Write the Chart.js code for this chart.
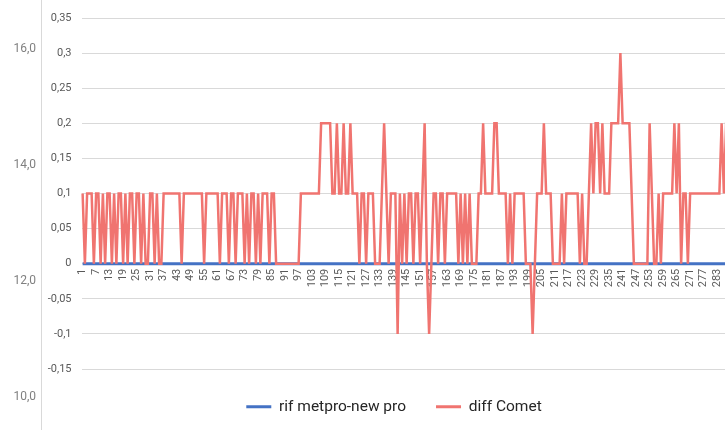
<!DOCTYPE html>
<html><head><meta charset="utf-8">
<script src="https://cdn.jsdelivr.net/npm/chart.js@4/dist/chart.umd.min.js"></script>
<style>
html,body{margin:0;padding:0;background:#fff;overflow:hidden;width:725px;height:430px;}
#main{position:absolute;left:0;top:0;}
#side{position:absolute;left:0;top:0;}
</style></head><body>
<canvas id="main" width="788" height="430"></canvas>
<canvas id="side" width="45" height="430"></canvas>
<script>
const categoryCount = 314;
const categories = Array.from({length: categoryCount}, (_, i) => String(i + 1));
const rifMetpro = [
0,0,0,0,0,0,0,0,0,0, 0,0,0,0,0,0,0,0,0,0, 0,0,0,0,0,0,0,0,0,0,
0,0,0,0,0,0,0,0,0,0, 0,0,0,0,0,0,0,0,0,0, 0,0,0,0,0,0,0,0,0,0,
0,0,0,0,0,0,0,0,0,0, 0,0,0,0,0,0,0,0,0,0, 0,0,0,0,0,0,0,0,0,0,
0,0,0,0,0,0,0,0,0,0, 0,0,0,0,0,0,0,0,0,0, 0,0,0,0,0,0,0,0,0,0,
0,0,0,0,0,0,0,0,0,0, 0,0,0,0,0,0,0,0,0,0, 0,0,0,0,0,0,0,0,0,0,
0,0,0,0,0,0,0,0,0,0, 0,0,0,0,0,0,0,0,0,0, 0,0,0,0,0,0,0,0,0,0,
0,0,0,0,0,0,0,0,0,0, 0,0,0,0,0,0,0,0,0,0, 0,0,0,0,0,0,0,0,0,0,
0,0,0,0,0,0,0,0,0,0, 0,0,0,0,0,0,0,0,0,0, 0,0,0,0,0,0,0,0,0,0,
0,0,0,0,0,0,0,0,0,0, 0,0,0,0,0,0,0,0,0,0, 0,0,0,0,0,0,0,0,0,0,
0,0,0,0,0,0,0,0,0,0, 0,0,0,0,0,0,0,0
];
const diffComet = [
0.1,0,0.1,0.1,0.1,0,0.1,0.1,0,0.1,
0,0.1,0.1,0,0.1,0,0.1,0.1,0,0.1,
0,0.1,0.1,0,0.1,0.1,0,0.1,0,0,
0.1,0.1,0,0.1,0,0,0.1,0.1,0.1,0.1,
0.1,0.1,0.1,0.1,0,0.1,0.1,0.1,0.1,0.1,
0.1,0.1,0.1,0.1,0,0.1,0.1,0.1,0.1,0.1,
0.1,0,0.1,0.1,0.1,0,0.1,0.1,0,0.1,
0.1,0.1,0,0.1,0,0.1,0.1,0,0.1,0,
0.1,0.1,0.1,0,0.1,0.1,0,0,0,0,
0,0,0,0,0,0,0,0.1,0.1,0.1,
0.1,0.1,0.1,0.1,0.1,0.1,0.2,0.2,0.2,0.2,
0.2,0.1,0.1,0.2,0.1,0.1,0.2,0.1,0.1,0.2,
0.1,0.1,0.1,0,0.1,0.1,0,0.1,0.1,0.1,
0,0,0,0.1,0.2,0.1,0,0.1,0.1,0.1,
-0.1,0.1,0,0.1,0,0.1,0.1,0,0.1,0.1,
0,0.1,0.2,0,-0.1,0,0.1,0.1,0,0.1,
0.1,0,0.1,0.1,0.1,0.1,0.1,0,0.1,0,
0.1,0,0.1,0,0,0,0.1,0.1,0.2,0.1,
0.1,0.1,0.1,0.2,0.2,0.1,0.1,0.1,0.1,0,
0.1,0,0.1,0.1,0.1,0.1,0.1,0,0,0,
-0.1,0,0.1,0.1,0.1,0.2,0.1,0.1,0.1,0,
0,0,0,0.1,0,0.1,0.1,0.1,0.1,0.1,
0.1,0,0.1,0,0,0.1,0.2,0.1,0.2,0.2,
0.1,0.2,0.1,0.1,0.1,0.2,0.2,0.2,0.2,0.3,
0.2,0.2,0.2,0.2,0.1,0,0,0,0,0,
0,0,0.2,0.1,0,0,0.1,0,0.1,0.1,
0.1,0.1,0.1,0.2,0.1,0.2,0,0.1,0.1,0,
0.1,0.1,0.1,0.1,0.1,0.1,0.1,0.1,0.1,0.1,
0.1,0.1,0.1,0.1,0.2,0.1,0.2,0.2
];
const yTicks = [-0.15,-0.1,-0.05,0,0.05,0.1,0.15,0.2,0.25,0.3,0.35];
const sideTicks = [10,12,14,16];

const FONT = "Roboto, sans-serif";
const fmt = v => String(Math.round(v * 100) / 100).replace('.', ',');

new Chart(document.getElementById('main'), {
  type: 'line',
  data: {
    labels: categories,
    datasets: [
      {label: 'rif metpro-new pro', data: rifMetpro, borderColor: '#4472c4', backgroundColor: '#4472c4', borderWidth: 3, pointRadius: 0, tension: 0, order: 1},
      {label: 'diff Comet', data: diffComet, borderColor: '#f07470', backgroundColor: '#f07470', borderWidth: 2.5, pointRadius: 0, tension: 0, order: 0}
    ]
  },
  options: {
    responsive: false, animation: false, events: [],
    layout: {padding: {top: 18, left: 0, right: 0, bottom: 5.5}},
    plugins: {
      legend: {
        position: 'bottom',
        labels: {
          boxWidth: 25, boxHeight: 3, padding: 30, color: '#262626',
          font: {family: FONT, size: 15.5},
          sort: (a, b) => a.datasetIndex - b.datasetIndex,
          generateLabels: chart => Chart.defaults.plugins.legend.labels.generateLabels(chart).map(l => Object.assign(l, {lineWidth: 0}))
        }
      },
      tooltip: {enabled: false}
    },
    scales: {
      x: {
        type: 'category', position: {y: 0}, offset: true,
        afterFit: s => { s.paddingLeft = 0; s.paddingRight = 0; },
        grid: {display: false, drawTicks: false}, border: {display: false},
        ticks: {
          autoSkip: false, maxRotation: 90, minRotation: 90, padding: 5,
          color: '#595959', font: {family: FONT, size: 11},
          callback: function(v, i) { return i % 6 === 0 ? this.getLabelForValue(v) : ''; }
        }
      },
      y: {
        min: -0.15, max: 0.35,
        afterFit: s => { s.width = 81.5; },
        afterBuildTicks: s => { s.ticks = yTicks.map(v => ({value: v})); },
        grid: {color: '#d9d9d9', drawTicks: false}, border: {display: false},
        ticks: {padding: 10, color: '#595959', font: {family: FONT, size: 11}, callback: v => fmt(v)}
      }
    }
  }
});

new Chart(document.getElementById('side'), {
  type: 'line',
  data: {labels: [], datasets: []},
  options: {
    responsive: false, animation: false, events: [],
    layout: {padding: 0},
    plugins: {legend: {display: false}, tooltip: {enabled: false}},
    scales: {
      x: {display: false},
      y: {
        min: 9.44, max: 16.845,
        afterFit: s => { s.width = 41; s.paddingTop = 0; s.paddingBottom = 0; },
        afterBuildTicks: s => { s.ticks = sideTicks.map(v => ({value: v})); },
        grid: {display: false, drawTicks: false},
        border: {display: true, color: '#d9d9d9'},
        ticks: {padding: 5, color: '#808080', font: {family: FONT, size: 12}, callback: v => v.toFixed(1).replace('.', ',')}
      }
    }
  }
});
</script>
</body></html>
